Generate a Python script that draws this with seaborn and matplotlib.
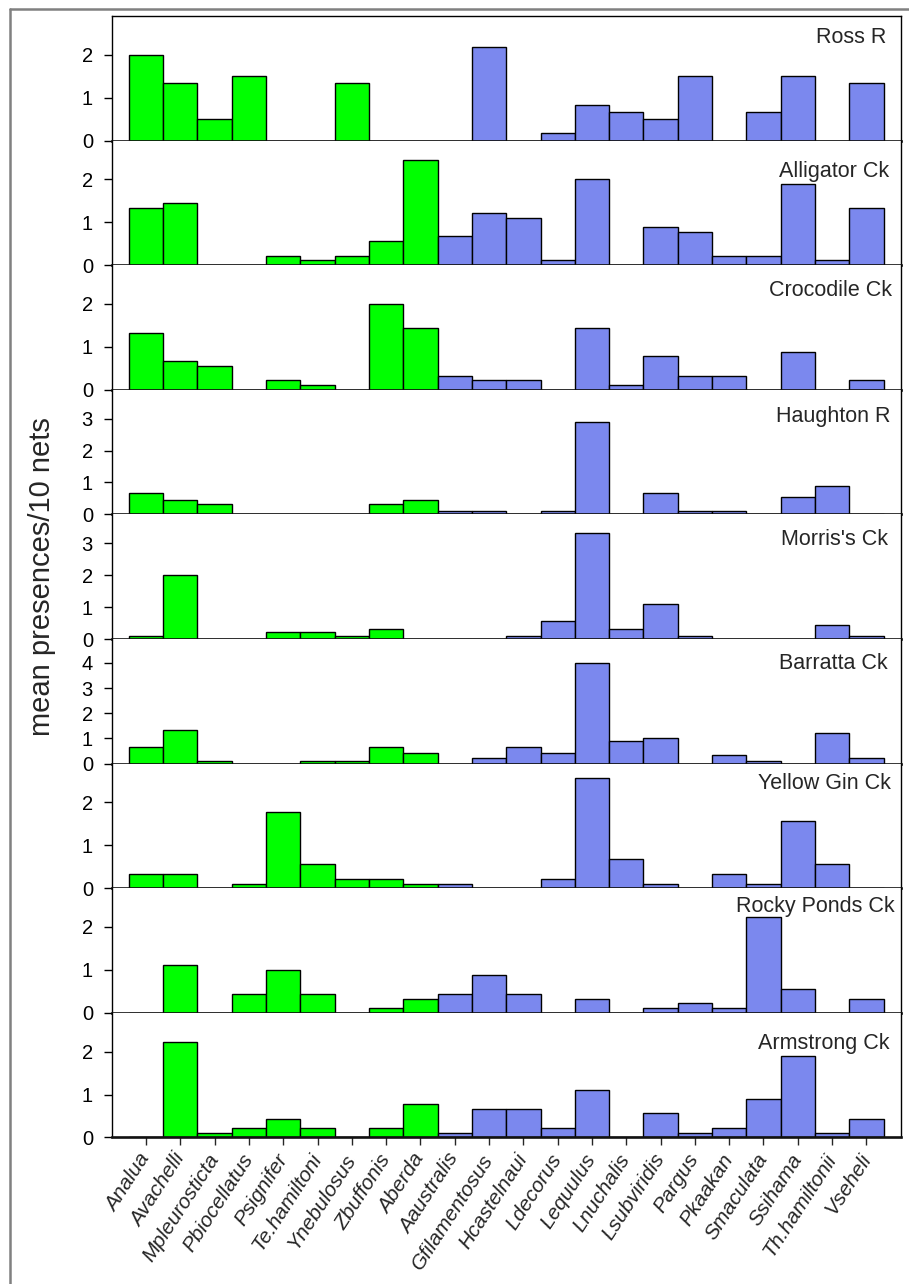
import numpy as np
import pandas as pd
import matplotlib
matplotlib.use("Agg")
import matplotlib.pyplot as plt
import seaborn as sns
from matplotlib.lines import Line2D

# ---------------- data ----------------
species = ["Analua", "Avachelli", "Mpleurosticta", "Pbiocellatus", "Psignifer",
           "Te.hamiltoni", "Ynebulosus", "Zbuffonis", "Aberda", "Aaustralis",
           "Gfilamentosus", "Hcastelnaui", "Ldecorus", "Lequulus", "Lnuchalis",
           "Lsubviridis", "Pargus", "Pkaakan", "Smaculata", "Ssihama",
           "Th.hamiltonii", "Vseheli"]
groups = ["green"] * 9 + ["blue"] * 13

sites = ["Ross R", "Alligator Ck", "Crocodile Ck", "Haughton R", "Morris's Ck",
         "Barratta Ck", "Yellow Gin Ck", "Rocky Ponds Ck", "Armstrong Ck"]

ross_r = [2.00, 1.33, 0.50, 1.50, 0, 0, 1.33, 0, 0, 0, 2.17, 0, 0.17, 0.83, 0.67,
          0.50, 1.50, 0, 0.67, 1.50, 0, 1.33]
alligator_ck = [1.33, 1.44, 0, 0, 0.22, 0.11, 0.22, 0.56, 2.44, 0.67, 1.22, 1.11,
                0.11, 2.00, 0, 0.89, 0.78, 0.22, 0.22, 1.89, 0.11, 1.33]
crocodile_ck = [1.33, 0.67, 0.56, 0, 0.22, 0.11, 0, 2.00, 1.44, 0.33, 0.22, 0.22,
                0, 1.44, 0.11, 0.78, 0.33, 0.33, 0, 0.89, 0, 0.22]
haughton_r = [0.67, 0.44, 0.33, 0, 0, 0, 0, 0.33, 0.44, 0.11, 0.11, 0, 0.11, 2.89,
              0, 0.67, 0.11, 0.11, 0, 0.56, 0.89, 0]
morriss_ck = [0.11, 2.00, 0, 0, 0.22, 0.22, 0.11, 0.33, 0, 0, 0, 0.11, 0.56, 3.33,
              0.33, 1.11, 0.11, 0, 0, 0, 0.44, 0.11]
barratta_ck = [0.67, 1.33, 0.11, 0, 0, 0.11, 0.11, 0.67, 0.44, 0, 0.22, 0.67, 0.44,
               4.00, 0.89, 1.00, 0, 0.33, 0.11, 0, 1.22, 0.22]
yellow_gin_ck = [0.33, 0.33, 0, 0.11, 1.78, 0.56, 0.22, 0.22, 0.11, 0.11, 0, 0,
                 0.22, 2.56, 0.67, 0.11, 0, 0.33, 0.11, 1.56, 0.56, 0]
rocky_ponds_ck = [0, 1.11, 0, 0.44, 1.00, 0.44, 0, 0.11, 0.33, 0.44, 0.89, 0.44, 0,
                  0.33, 0, 0.11, 0.22, 0.11, 2.22, 0.56, 0, 0.33]
armstrong_ck = [0, 2.22, 0.11, 0.22, 0.44, 0.22, 0, 0.22, 0.78, 0.11, 0.67, 0.67,
                0.22, 1.11, 0, 0.56, 0.11, 0.22, 0.89, 1.89, 0.11, 0.44]

site_values = [ross_r, alligator_ck, crocodile_ck, haughton_r, morriss_ck,
               barratta_ck, yellow_gin_ck, rocky_ponds_ck, armstrong_ck]

y_max = [2.9, 2.9, 2.9, 3.9, 3.9, 4.95, 2.9, 2.9, 2.9]
y_label = "mean presences/10 nets"

# ---------------- layout / style ----------------
W, H = 909, 1284
DPI = 100
palette = {"green": "#00FF00", "blue": "#7B88EE"}
label_drop_px = [26.7, 36, 31, 32.3, 30.7, 30, 25, 24, 35.7]
label_right_px = [886, 889, 892, 891, 888, 888, 891, 895, 890]

sns.set_style("ticks")
plt.rcParams["font.family"] = ["Liberation Sans", "DejaVu Sans"]

fig, axes = plt.subplots(len(sites), 1, figsize=(W / DPI, H / DPI), dpi=DPI)
ax_left, ax_right = 111.7 / W, 900.7 / W
ax_top, ax_bot = 1 - 16 / H, 1 - 1137.5 / H
fig.subplots_adjust(left=ax_left, right=ax_right, top=ax_top, bottom=ax_bot, hspace=0)

panel_h_px = (1137.5 - 16) / len(sites)
ax_w_px = 900.7 - 111.7

for i, (ax, site, vals) in enumerate(zip(axes, sites, site_values)):
    df = pd.DataFrame({"species": species, "value": vals, "group": groups})
    sns.barplot(data=df, x="species", y="value", hue="group", order=species,
                hue_order=["green", "blue"], palette=palette, dodge=False,
                width=1.0, errorbar=None, saturation=1, edgecolor="black",
                linewidth=1.0, legend=False, ax=ax)
    ax.set_xlim(-1, len(species))
    ax.set_ylim(0, y_max[i])
    ax.set_yticks(range(int(y_max[i]) + 1))
    ax.set_xlabel("")
    ax.set_ylabel("")
    for s in ["left", "right", "top"]:
        ax.spines[s].set_linewidth(1.0)
        ax.spines[s].set_color("black")
    ax.spines["bottom"].set_linewidth(1.9)
    ax.spines["bottom"].set_color("#111111")
    ax.spines["top"].set_visible(i == 0)
    ax.tick_params(axis="y", direction="out", length=5.5, width=1.0, pad=8,
                   labelsize=14.5, colors="black")
    if i < len(sites) - 1:
        ax.tick_params(axis="x", length=0, labelbottom=False)
    else:
        ax.tick_params(axis="x", direction="out", length=6, width=1.0, pad=7,
                       labelsize=15)
        ax.set_xticks(range(len(species)))
        ax.set_xticklabels(species, rotation=57, ha="right", va="center",
                           rotation_mode="anchor", style="italic")
    ax.text((label_right_px[i] - 111.7) / ax_w_px,
            1 - label_drop_px[i] / panel_h_px, site, transform=ax.transAxes,
            ha="right", va="baseline", fontsize=15.5)

fig.text(42 / W, (ax_top + ax_bot) / 2, y_label, rotation=90, ha="center",
         va="center", fontsize=21)

# outer gray frame (top and left edges)
fig.add_artist(Line2D([10 / W, 10 / W], [0, 1 - 9 / H], color="#808080",
                      lw=1.8, transform=fig.transFigure))
fig.add_artist(Line2D([10 / W, 1], [1 - 9 / H, 1 - 9 / H], color="#808080",
                      lw=1.8, transform=fig.transFigure))

fig.savefig("out.png", dpi=DPI)
